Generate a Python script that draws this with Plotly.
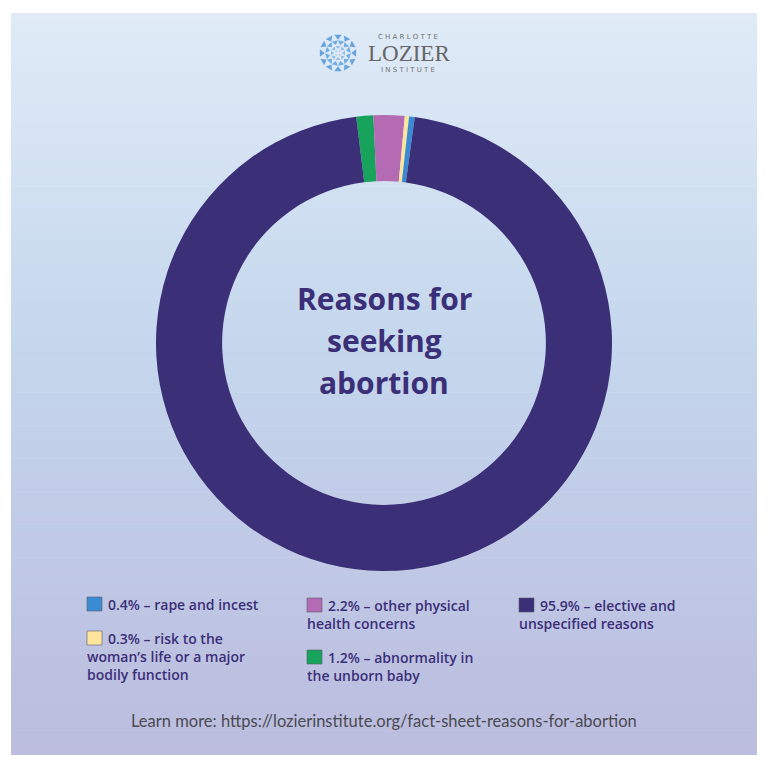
import plotly.graph_objects as go
import numpy as np

# slices, clockwise from the green one (just left of 12 o'clock)
labels = ['abnormality in the unborn baby', 'other physical health concerns',
          'risk to the woman\u2019s life or a major bodily function',
          'rape and incest', 'elective and unspecified reasons']
shares = [1.2, 2.2, 0.3, 0.4, 95.9]
slice_colors = ['#17a35b', '#b46bb3', '#fde59b', '#3b8bd3', '#3b2f78']

# legend wording, split the way the graphic wraps it (index into the lists above)
legend_order = [3, 2, 1, 0, 4]
legend_wraps = {
    3: ['rape and incest'],
    2: ['risk to the', 'woman\u2019s life or a major', 'bodily function'],
    1: ['other physical', 'health concerns'],
    0: ['abnormality in', 'the unborn baby'],
    4: ['elective and', 'unspecified reasons'],
}

title_lines = ['Reasons for', 'seeking', 'abortion']
footer = 'Learn more: https://lozierinstitute.org/fact-sheet-reasons-for-abortion'

W, H = 774, 764
OFF = 8  # page body margin, so axis units == screen pixels
ink = '#3b2f78'

fig = go.Figure()

fig.add_trace(go.Pie(
    labels=labels, values=shares, sort=False, direction='clockwise',
    rotation=-7, hole=0.71,
    marker=dict(colors=slice_colors, line=dict(width=0)),
    textinfo='none', hoverinfo='label+percent', showlegend=False,
    domain=dict(x=[(156 - OFF) / W, (612 - OFF) / W],
                y=[1 - (571 - OFF) / H, 1 - (115 - OFF) / H]),
))

# background gradient panel
top, mid, bot = np.array([224, 235, 247]), np.array([197, 215, 237]), np.array([188, 189, 223])
y0, y1 = 13, 755
nb = 90
shapes = []
for i in range(nb):
    t = i / (nb - 1)
    if t < 0.45:
        c = top + (mid - top) * t / 0.45
    else:
        c = mid + (bot - mid) * (t - 0.45) / 0.55
    ya = y0 + (y1 - y0) * i / nb
    yb = y0 + (y1 - y0) * (i + 1) / nb + 0.6
    shapes.append(dict(type='rect', xref='x', yref='y', x0=11, x1=757, y0=ya, y1=min(yb, y1),
                       fillcolor='rgb(%d,%d,%d)' % tuple(c.astype(int)),
                       line=dict(width=0), layer='below'))

annotations = []

# centre title
for k, line in enumerate(title_lines):
    annotations.append(dict(x=384, y=298 + 42 * k, xref='x', yref='y', text='<b>%s</b>' % line,
                            showarrow=False, xanchor='center', yanchor='middle', borderpad=0,
                            font=dict(family='Open Sans', size=30, color=ink)))

# legend, three columns
legend_pos = {3: (87, 604), 2: (87, 638), 1: (307, 605), 0: (307, 657), 4: (519, 605)}
line_gap = 18.4
for idx in legend_order:
    sx, sy = legend_pos[idx]
    shapes.append(dict(type='rect', xref='x', yref='y', x0=sx, x1=sx + 15, y0=sy - 7, y1=sy + 7,
                       fillcolor=slice_colors[idx], line=dict(color='rgba(90,90,110,0.6)', width=1)))
    lines = legend_wraps[idx]
    first = '%s%% \u2013 %s' % (shares[idx], lines[0])
    annotations.append(dict(x=sx + 20, y=sy, xref='x', yref='y', text=first,
                            showarrow=False, xanchor='left', yanchor='middle', borderpad=0,
                            font=dict(family='Open Sans', size=14, color=ink, weight=600)))
    for j, rest in enumerate(lines[1:]):
        annotations.append(dict(x=sx - 1, y=sy + line_gap * (j + 1), xref='x', yref='y',
                                text=rest, showarrow=False, borderpad=0,
                                xanchor='left', yanchor='middle',
                                font=dict(family='Open Sans', size=14, color=ink, weight=600)))

annotations.append(dict(x=384, y=721, xref='x', yref='y', text=footer, showarrow=False,
                        xanchor='center', yanchor='middle',
                        font=dict(family='Lato', size=16.5, color='#4a4a52')))

# logo text
annotations.append(dict(x=408, y=37, xref='x', yref='y', text='C H A R L O T T E', showarrow=False,
                        borderpad=0, font=dict(family='DejaVu Sans', size=7, color='#707070')))
annotations.append(dict(x=409, y=53, xref='x', yref='y', text='LOZIER', showarrow=False,
                        borderpad=0, font=dict(family='Liberation Serif', size=23, color='#666666')))
annotations.append(dict(x=408, y=70, xref='x', yref='y', text='I N S T I T U T E', showarrow=False,
                        borderpad=0, font=dict(family='DejaVu Sans', size=7, color='#707070')))

# logo mark: rings of little blue triangles
cx, cy = 338, 53
lx, ly, lc, ls, la = [], [], [], [], []
for r, n, off, col, size in [(16.5, 12, 0, '#3585d0', 6.5), (11, 12, 15, '#3f91d8', 5.5),
                             (6, 8, 0, '#6aaae2', 4), (2.5, 4, 45, '#9cc6ec', 2.5)]:
    for k in range(n):
        a = np.deg2rad(off + 360 * k / n)
        lx.append(cx + r * np.sin(a))
        ly.append(cy - r * np.cos(a))
        lc.append(col)
        ls.append(size)
        la.append(np.rad2deg(a) + 180)
fig.add_trace(go.Scatter(x=lx, y=ly, mode='markers', hoverinfo='skip', showlegend=False,
                         marker=dict(symbol='triangle-up', size=ls, color=lc, angle=la,
                                     line=dict(width=0))))

fig.update_layout(
    width=W, height=H, margin=dict(l=0, r=0, t=0, b=0),
    paper_bgcolor='white', plot_bgcolor='rgba(0,0,0,0)',
    xaxis=dict(range=[OFF, W + OFF], visible=False, fixedrange=True),
    yaxis=dict(range=[H + OFF, OFF], visible=False, fixedrange=True),
    shapes=shapes, annotations=annotations, showlegend=False,
)

fig.write_html('out.html')
